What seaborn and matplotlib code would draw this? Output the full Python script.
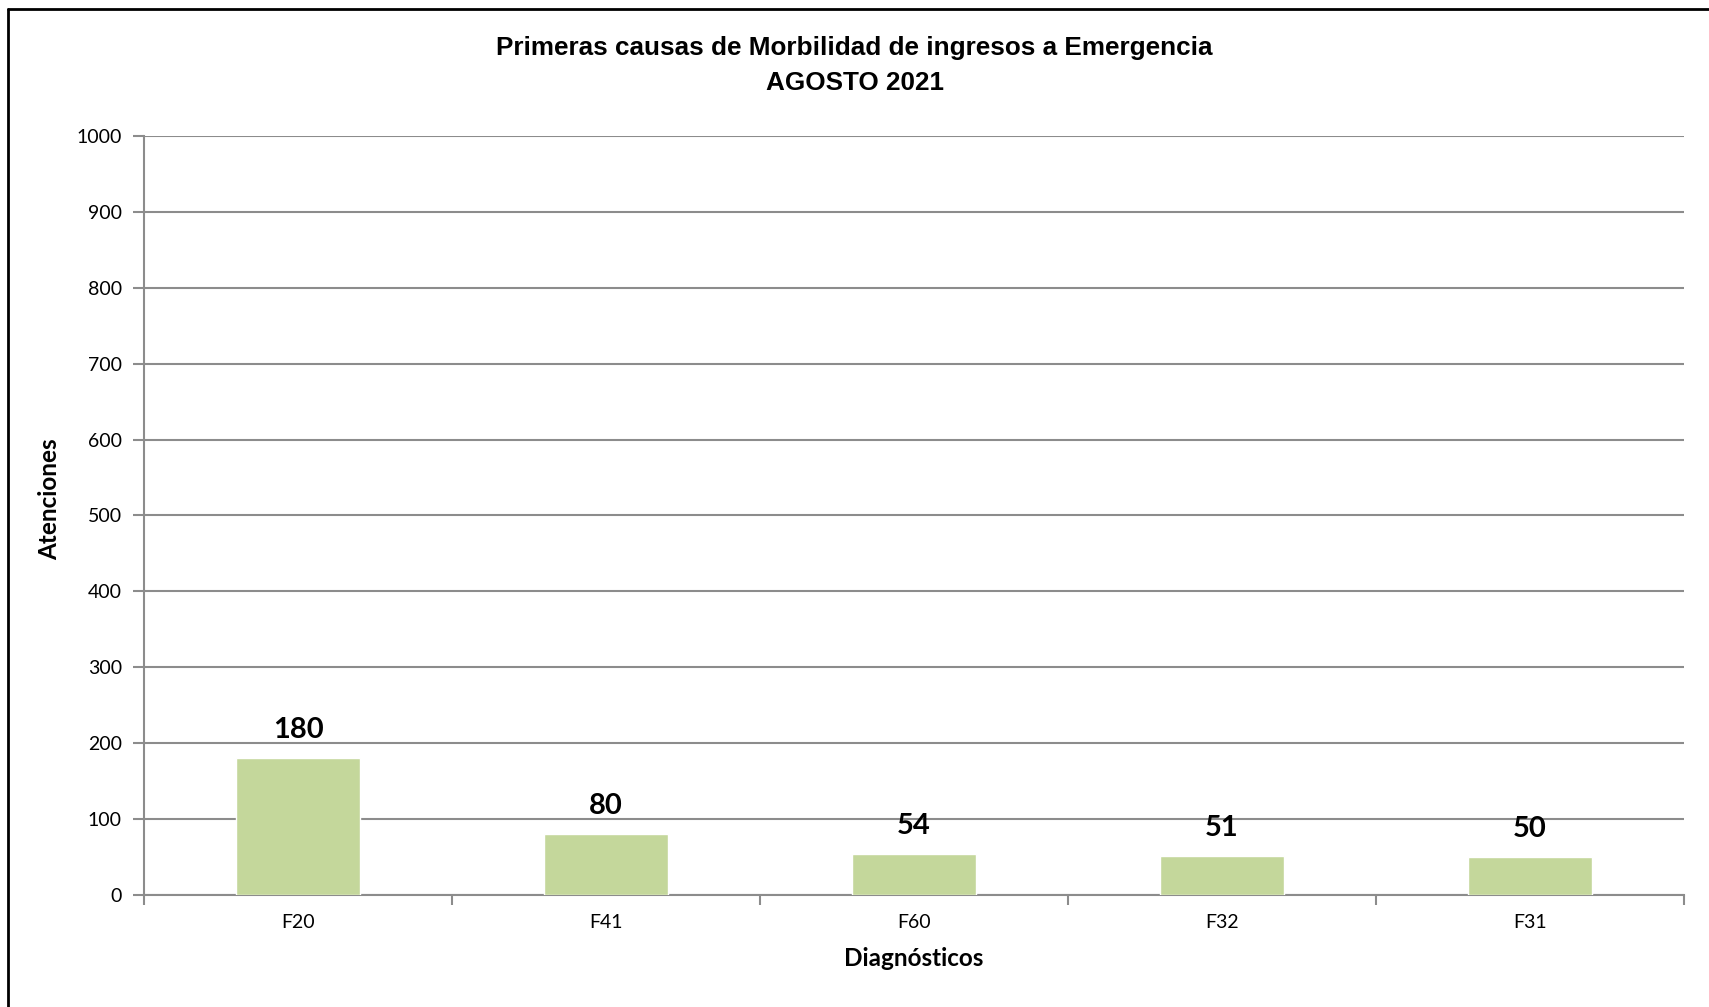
import matplotlib
matplotlib.use("Agg")
import matplotlib.pyplot as plt
import seaborn as sns
import pandas as pd
from matplotlib.lines import Line2D

diagnosticos = ["F20", "F41", "F60", "F32", "F31"]
atenciones = [180, 80, 54, 51, 50]
y_ticks = [0, 100, 200, 300, 400, 500, 600, 700, 800, 900, 1000]

df = pd.DataFrame({"diag": diagnosticos, "n": atenciones})

sns.set_style("white")
plt.rcParams["font.family"] = ["Lato", "DejaVu Sans"]
plt.rcParams["text.color"] = "black"
plt.rcParams["axes.labelcolor"] = "black"
plt.rcParams["xtick.color"] = "black"
plt.rcParams["ytick.color"] = "black"

fig = plt.figure(figsize=(17.09, 10.07), dpi=100)
ax = fig.add_axes([0.0843, 0.1112, 0.9011, 0.7538])

sns.barplot(data=df, x="diag", y="n", color="#c4d79b", width=0.4,
            saturation=1, ax=ax, zorder=3)

ax.set_ylim(0, 1000)
ax.set_xlim(-0.5, 4.5)
ax.set_yticks(y_ticks)
ax.yaxis.grid(True, color="#8c8c8c", linewidth=1.5, zorder=0)
ax.xaxis.grid(False)

for s in ["top", "right"]:
    ax.spines[s].set_visible(False)
for s in ["left", "bottom"]:
    ax.spines[s].set_color("#8c8c8c")
    ax.spines[s].set_linewidth(1.5)

ax.tick_params(axis="y", which="major", length=8, width=1.5, color="#8c8c8c",
               labelsize=14, pad=8, left=True)
ax.tick_params(axis="x", which="major", length=0, labelsize=14, pad=14)
ax.set_xticks([-0.5, 0.5, 1.5, 2.5, 3.5, 4.5], minor=True)
ax.tick_params(axis="x", which="minor", length=7, width=1.5, color="#8c8c8c",
               bottom=True)

for i, v in enumerate(atenciones):
    ax.text(i, v + 20, str(v), ha="center", va="bottom",
            fontsize=21, fontweight="bold")

ax.set_xlabel("Diagnósticos", fontsize=17.5, fontweight="bold", labelpad=11)
ax.set_ylabel("Atenciones", fontsize=17.5, fontweight="bold", labelpad=11)
ax.yaxis.label.set_y(0.522)

fig.text(0.5, 0.935, "Primeras causas de Morbilidad de ingresos a Emergencia\nAGOSTO 2021",
         ha="center", va="center", fontsize=18.8, fontweight="bold",
         family="Liberation Sans", linespacing=1.6)

# outer chart frame (top and left only visible)
fig.add_artist(Line2D([8 / 1709, 1], [1 - 9 / 1007, 1 - 9 / 1007],
                      color="black", linewidth=2, transform=fig.transFigure))
fig.add_artist(Line2D([8 / 1709, 8 / 1709], [0, 1 - 9 / 1007],
                      color="black", linewidth=2, transform=fig.transFigure))

plt.savefig("out.png", dpi=100)
plt.close()
